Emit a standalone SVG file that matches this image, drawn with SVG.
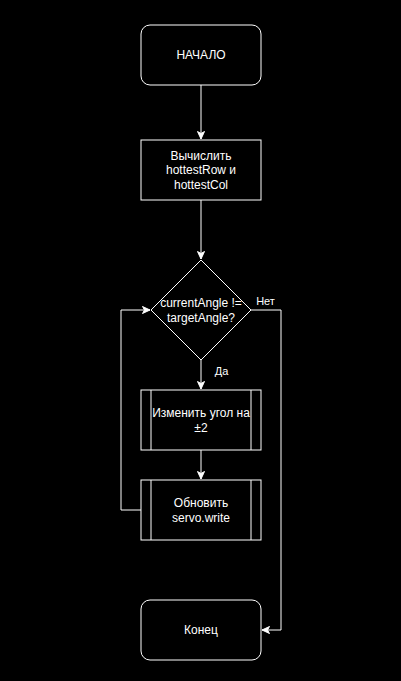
<svg xmlns="http://www.w3.org/2000/svg" width="401" height="681" viewBox="0 0 401 681">
<style>
.n{fill:#000;stroke:#fff;stroke-width:1}
.e{fill:none;stroke:#fff;stroke-width:1}
text{font-family:"Liberation Sans",Arial,sans-serif;font-size:12px;fill:#fff;text-anchor:middle;dominant-baseline:central}
.l{font-size:11px}
</style>
<defs>
<marker id="a" markerUnits="userSpaceOnUse" markerWidth="10" markerHeight="10" viewBox="0 0 10 10" refX="9" refY="5" orient="auto">
<path d="M1.5,1.5 L9,5 L1.5,8.5 L3.5,5 Z" fill="#fff" stroke="#fff" stroke-width="1"/>
</marker>
</defs>
<rect width="401" height="681" fill="#000"/>
<g id="edges">
<path class="e" d="M201,85 V139" marker-end="url(#a)"/>
<path class="e" d="M201,200 V259" marker-end="url(#a)"/>
<path class="e" d="M201,360 V389" marker-end="url(#a)"/>
<path class="e" d="M201,450 V479" marker-end="url(#a)"/>
<path class="e" d="M251,310 H281 V630 H262" marker-end="url(#a)"/>
<path class="e" d="M141,510 H121 V310 H150" marker-end="url(#a)"/>
<text class="l" x="265.5" y="301">Нет</text>
<text class="l" x="221.5" y="371">Да</text>
</g>
<g id="start">
<rect class="n" x="141" y="25" width="120" height="60" rx="9"/>
<text x="201" y="55">НАЧАЛО</text>
</g>
<g id="compute">
<rect class="n" x="141" y="140" width="120" height="60"/>
<text x="201" y="155.5">Вычислить</text>
<text x="201" y="170">hottestRow и</text>
<text x="201" y="184.5">hottestCol</text>
</g>
<g id="decision">
<path class="n" d="M201,260 L251,310 L201,360 L151,310 Z"/>
<text x="201" y="302.5">currentAngle !=</text>
<text x="201" y="317.5">targetAngle?</text>
</g>
<g id="change">
<rect class="n" x="141" y="390" width="120" height="60"/>
<path class="e" d="M151,390 V450 M251,390 V450"/>
<text x="201" y="412.5">Изменить угол на</text>
<text x="201" y="427.5">±2</text>
</g>
<g id="update">
<rect class="n" x="141" y="480" width="120" height="60"/>
<path class="e" d="M151,480 V540 M251,480 V540"/>
<text x="201" y="502.5">Обновить</text>
<text x="201" y="517.5">servo.write</text>
</g>
<g id="end">
<rect class="n" x="141" y="600" width="120" height="60" rx="9"/>
<text x="201" y="630">Конец</text>
</g>
</svg>
